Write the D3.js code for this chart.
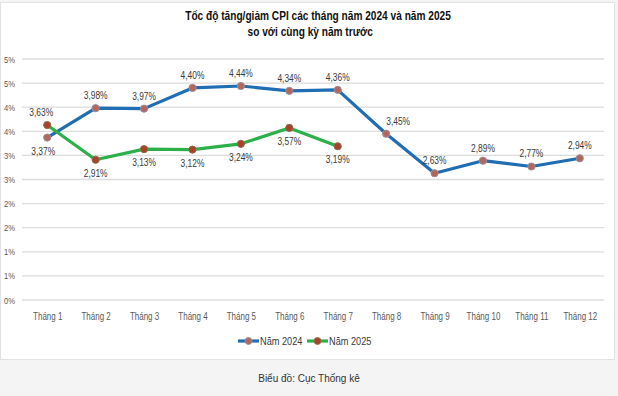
<!DOCTYPE html>
<html>
<head>
<meta charset="utf-8">
<script src="https://cdn.jsdelivr.net/npm/d3@7"></script>
<style>
  body { margin: 0; background: #fff; }
  svg { display: block; }
  .narrow { font-family: "Liberation Sans", Arial, sans-serif; }
</style>
</head>
<body>
<svg id="chart"></svg>
<script>
// Data
const months = ["Tháng 1", "Tháng 2", "Tháng 3", "Tháng 4", "Tháng 5", "Tháng 6",
  "Tháng 7", "Tháng 8", "Tháng 9", "Tháng 10", "Tháng 11", "Tháng 12"];
const cpi2024 = [3.37, 3.98, 3.97, 4.40, 4.44, 4.34, 4.36, 3.45, 2.63, 2.89, 2.77, 2.94];
const cpi2025 = [3.63, 2.91, 3.13, 3.12, 3.24, 3.57, 3.19];
const yTicks = [0, 0.5, 1, 1.5, 2, 2.5, 3, 3.5, 4, 4.5, 5];
const yTickLabels = ["0%", "1%", "1%", "2%", "2%", "3%", "3%", "4%", "4%", "5%", "5%"];
// label placement: -1 above the point, 1 below
const pos2024 = [1, -1, -1, -1, -1, -1, -1, -1, -1, -1, -1, -1];
const pos2025 = [-1, 1, 1, 1, 1, 1, 1];

const W = 618, H = 396;
const margin = { top: 59, right: 14, bottom: 96, left: 23 };
const squeeze = 0.8; // fake a narrow font

const svg = d3.select("#chart")
    .attr("width", W)
    .attr("height", H);

// page frame and caption band
svg.append("rect").attr("x", 0).attr("y", 0).attr("width", W).attr("height", H).attr("fill", "#f4f4f4");
svg.append("rect")
    .attr("x", 0.5).attr("y", 2.5).attr("width", W - 4).attr("height", 357)
    .attr("fill", "#fff").attr("stroke", "#e2e2e2");

svg.append("text")
    .attr("x", W / 2).attr("y", 382)
    .attr("text-anchor", "middle")
    .style("font-family", "'Liberation Sans', Arial, sans-serif")
    .style("font-size", "10px")
    .attr("fill", "#333")
    .text("Biểu đồ: Cục Thống kê");

// title
const title = svg.append("text")
    .attr("class", "narrow")
    .attr("text-anchor", "middle")
    .attr("transform", `translate(318,0) scale(0.78,1)`)
    .style("font-size", "13px")
    .style("font-weight", "bold")
    .attr("fill", "#111");
title.append("tspan").attr("x", 0).attr("y", 20).text("Tốc độ tăng/giảm CPI các tháng năm 2024 và năm 2025");
title.append("tspan").attr("x", -10).attr("y", 36).text("so với cùng kỳ năm trước");

const x = d3.scalePoint()
    .domain(months)
    .range([margin.left, W - margin.right])
    .padding(0.5);

const y = d3.scaleLinear()
    .domain([0, 5])
    .range([H - margin.bottom, margin.top]);

// gridlines
svg.append("g")
    .selectAll("line")
    .data(yTicks)
    .join("line")
    .attr("x1", margin.left - 1)
    .attr("x2", W - margin.right)
    .attr("y1", d => y(d))
    .attr("y2", d => y(d))
    .attr("stroke", "#dcdcdc")
    .attr("stroke-width", 1.3);

// y axis labels
const yAxis = svg.append("g")
    .attr("transform", `translate(${margin.left - 8},0)`)
    .call(d3.axisLeft(y).tickValues(yTicks).tickSize(0).tickFormat((d, i) => yTickLabels[i]));
yAxis.select(".domain").remove();
yAxis.selectAll("text")
    .attr("class", "narrow")
    .style("font-size", "9.5px")
    .attr("fill", "#595959")
    .attr("x", 0)
    .attr("transform", `scale(${squeeze},1)`);

// x axis labels
const xAxis = svg.append("g")
    .attr("transform", `translate(0,${H - margin.bottom + 10})`)
    .call(d3.axisBottom(x).tickSize(0));
xAxis.select(".domain").remove();
xAxis.selectAll("text")
    .attr("class", "narrow")
    .style("font-size", "10px")
    .attr("fill", "#595959")
    .attr("transform", `scale(${squeeze},1)`);

const series = [
  { name: "Năm 2024", values: cpi2024, pos: pos2024, color: "#1f6db3", marker: "#b5665a", markerStroke: "#9a8f99" },
  { name: "Năm 2025", values: cpi2025, pos: pos2025, color: "#2bb04a", marker: "#a8432b", markerStroke: "#8d6a4a" }
];

const line = d3.line()
    .x((d, i) => x(months[i]))
    .y(d => y(d));

const fmt = v => d3.format(".2f")(v).replace(".", ",") + "%";

// small horizontal nudges for labels that sit beside the line
const nudge = (si, i) => (si === 0 && i === 7 ? 12 : si === 0 && i === 0 ? -4 : si === 1 && i === 0 ? -6 : 0);

series.forEach((s, si) => {
  const g = svg.append("g");
  g.append("path")
      .datum(s.values)
      .attr("fill", "none")
      .attr("stroke", s.color)
      .attr("stroke-width", 3.2)
      .attr("stroke-linejoin", "round")
      .attr("d", line);

  g.selectAll("circle")
      .data(s.values)
      .join("circle")
      .attr("cx", (d, i) => x(months[i]))
      .attr("cy", d => y(d))
      .attr("r", 3.6)
      .attr("fill", s.marker)
      .attr("stroke", s.markerStroke)
      .attr("stroke-width", 1);

  g.selectAll("text")
      .data(s.values)
      .join("text")
      .attr("class", "narrow")
      .attr("transform", (d, i) =>
        `translate(${x(months[i]) + nudge(si, i)},${y(d) + (s.pos[i] < 0 ? -9 : 17)}) scale(${squeeze},1)`)
      .attr("text-anchor", "middle")
      .style("font-size", "10.5px")
      .attr("fill", "#3a3a3a")
      .text(d => fmt(d));
});

// legend
const legend = svg.append("g").attr("transform", "translate(238,341)");
series.forEach((s, i) => {
  const lg = legend.append("g").attr("transform", `translate(${i * 69},0)`);
  lg.append("line")
      .attr("x1", 0).attr("x2", 21)
      .attr("stroke", s.color).attr("stroke-width", 3.2);
  lg.append("circle")
      .attr("cx", 10.5).attr("r", 3.4)
      .attr("fill", s.marker).attr("stroke", s.markerStroke);
  lg.append("text")
      .attr("class", "narrow")
      .attr("transform", `translate(22,4) scale(${squeeze},1)`)
      .style("font-size", "11.5px")
      .attr("fill", "#3a3a3a")
      .text(s.name);
});
</script>
</body>
</html>
